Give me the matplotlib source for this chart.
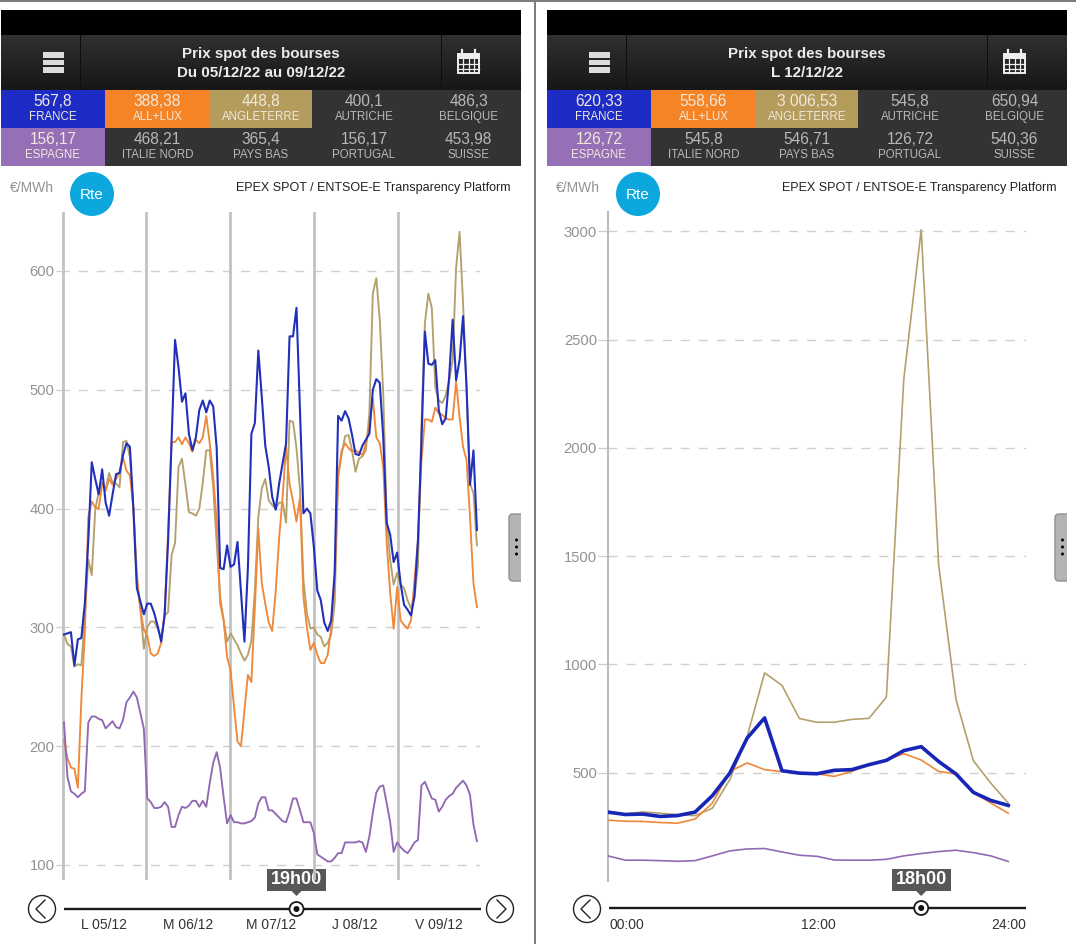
# Prix spot des bourses - two phone screenshots side by side

import numpy as np
import matplotlib
matplotlib.use("Agg")
import matplotlib.pyplot as plt
from matplotlib.patches import Rectangle, Circle, FancyBboxPatch, Polygon

plt.rcParams['font.family'] = ['Liberation Sans', 'DejaVu Sans']

W, H = 1076, 944

# week chart, one value per hour, Mon 05/12 to Fri 09/12
week_france = [294, 295, 296, 268, 290, 291, 320, 373, 439, 425, 412, 433, 405, 394, 412, 429, 430, 445, 455, 452, 400, 333, 322, 311,
               320, 320, 312, 301, 288, 310, 373, 457, 542, 519, 490, 497, 463, 449, 460, 483, 491, 481, 491, 486, 451, 350, 349, 369,
               351, 353, 372, 330, 288, 350, 463, 472, 533, 494, 453, 435, 410, 399, 421, 438, 455, 545, 545, 569, 483, 396, 400, 396,
               368, 331, 323, 304, 297, 306, 346, 478, 474, 482, 476, 462, 446, 445, 453, 458, 463, 500, 509, 506, 460, 388, 378, 355,
               363, 337, 319, 315, 310, 326, 373, 455, 549, 522, 521, 525, 483, 471, 476, 511, 559, 508, 525, 562, 503, 420, 449, 382]
week_allemagne = [205, 190, 182, 181, 165, 239, 295, 393, 406, 401, 400, 421, 415, 425, 420, 425, 430, 443, 432, 428, 400, 345, 315, 298,
                  293, 278, 276, 278, 287, 313, 380, 456, 456, 460, 454, 460, 455, 448, 458, 455, 460, 478, 455, 427, 390, 320, 306, 275,
                  264, 233, 204, 200, 230, 260, 254, 317, 383, 337, 320, 304, 297, 330, 375, 410, 452, 421, 406, 389, 409, 326, 300, 281,
                  287, 277, 270, 270, 277, 300, 340, 427, 449, 455, 451, 448, 449, 447, 445, 455, 470, 493, 460, 455, 435, 371, 329, 299,
                  334, 306, 302, 299, 306, 340, 373, 440, 475, 475, 473, 485, 480, 479, 476, 475, 475, 507, 477, 452, 441, 393, 337, 317]
week_angleterre = [294, 286, 284, 267, 269, 268, 310, 357, 344, 399, 414, 422, 416, 430, 422, 421, 418, 456, 457, 443, 400, 336, 317, 282,
                   300, 305, 305, 299, 291, 310, 313, 361, 371, 435, 442, 420, 397, 396, 394, 400, 422, 449, 449, 418, 371, 326, 306, 288,
                   295, 290, 285, 278, 272, 277, 289, 331, 393, 417, 425, 407, 403, 400, 405, 405, 388, 474, 473, 451, 416, 340, 312, 299,
                   300, 294, 292, 284, 287, 294, 320, 427, 445, 461, 462, 449, 431, 442, 444, 449, 480, 581, 594, 559, 497, 390, 357, 336,
                   346, 336, 333, 323, 316, 326, 351, 470, 556, 581, 569, 502, 491, 489, 495, 508, 525, 603, 633, 573, 502, 421, 413, 369]
week_espagne = [220, 174, 162, 160, 157, 160, 162, 220, 225, 225, 223, 222, 215, 218, 221, 216, 215, 222, 237, 241, 246, 241, 228, 215,
                156, 153, 148, 148, 149, 153, 149, 132, 132, 142, 149, 148, 150, 154, 154, 149, 154, 149, 169, 186, 195, 182, 157, 135,
                142, 136, 136, 135, 135, 136, 137, 140, 152, 157, 157, 146, 146, 143, 140, 137, 136, 145, 156, 156, 146, 136, 136, 136,
                127, 109, 107, 105, 103, 103, 106, 110, 110, 119, 119, 119, 119, 120, 119, 111, 124, 144, 161, 166, 167, 152, 136, 111,
                119, 115, 112, 110, 114, 119, 121, 167, 170, 163, 156, 155, 145, 149, 155, 158, 160, 165, 168, 171, 167, 159, 134, 120]

# day chart, Mon 12/12
day_france = [318, 307, 309, 298, 302, 318, 394, 498, 660, 753, 509, 498, 495, 511, 514, 537, 557, 602, 620.33, 552, 494, 409, 372, 349]
day_allemagne = [281, 276, 275, 270, 267, 286, 360, 506, 545, 514, 505, 498, 495, 483, 506, 537, 557, 588, 558.66, 506, 494, 409, 360, 313]
day_angleterre = [313, 310, 319, 313, 306, 302, 336, 468, 668, 961, 903, 750, 733, 733, 746, 751, 849, 2317, 3006.53, 1463, 838, 555, 452, 360]
day_espagne = [116, 96, 96, 94, 91, 94, 116, 139, 148, 150, 134, 119, 114, 97, 96, 96, 100, 116, 126.72, 136, 142, 131, 116, 90]

countries = ["FRANCE", "ALL+LUX", "ANGLETERRE", "AUTRICHE", "BELGIQUE",
             "ESPAGNE", "ITALIE NORD", "PAYS BAS", "PORTUGAL", "SUISSE"]
week_prices = ["567,8", "388,38", "448,8", "400,1", "486,3",
               "156,17", "468,21", "365,4", "156,17", "453,98"]
day_prices = ["620,33", "558,66", "3 006,53", "545,8", "650,94",
              "126,72", "545,8", "546,71", "126,72", "540,36"]

week_yticks = [100, 200, 300, 400, 500, 600]
day_yticks = [500, 1000, 1500, 2000, 2500, 3000]
week_days = ["L 05/12", "M 06/12", "M 07/12", "J 08/12", "V 09/12"]
day_hours = ["00:00", "12:00", "24:00"]

BLUE = '#2130bb'
ORANGE = '#f0883a'
TAN = '#b3a06c'
PURPLE = '#9069b3'
CELL_COLORS = {0: '#1c2cc4', 1: '#f58426', 2: '#b49c5c', 5: '#9670b6'}
GRAY_TEXT = '#929292'

fig = plt.figure(figsize=(W / 100, H / 100), dpi=100, facecolor='white')


def axes_px(x0, y0, x1, y1):
    return fig.add_axes([x0 / W, 1 - y1 / H, (x1 - x0) / W, (y1 - y0) / H])


# overlay in pixel coordinates for the app chrome
ui = axes_px(0, 0, W, H)
ui.set_xlim(0, W)
ui.set_ylim(H, 0)
ui.axis('off')


def rect(x0, y0, x1, y1, color, z=1):
    ui.add_patch(Rectangle((x0, y0), x1 - x0, y1 - y0, facecolor=color, edgecolor='none', zorder=z))


def draw_chrome(dx, line1, line2, prices):
    rect(dx + 1, 10, dx + 521, 35, 'black')
    grad = np.linspace(0.19, 0.09, 50).reshape(-1, 1)
    ui.imshow(grad, extent=(dx + 1, dx + 521, 90, 35), aspect='auto', cmap='gray',
              vmin=0, vmax=1, zorder=1)
    rect(dx + 79.5, 35, dx + 81, 90, '#0e0e0e', 2)
    rect(dx + 440.5, 35, dx + 442, 90, '#0e0e0e', 2)

    # hamburger
    for y in (52, 59.5, 67):
        rect(dx + 43, y, dx + 64, y + 5.5, '#dcdcdc', 3)
    # calendar
    ui.add_patch(Rectangle((dx + 458, 54), 21, 19, facecolor='none', edgecolor='#eeeeee', lw=1.4, zorder=3))
    rect(dx + 458, 54, dx + 479, 59, '#eeeeee', 3)
    for x in (dx + 463, dx + 468.5, dx + 474):
        ui.plot([x, x], [59, 73], color='#eeeeee', lw=0.9, zorder=3)
    for y in (63.5, 68.5):
        ui.plot([dx + 458, dx + 479], [y, y], color='#eeeeee', lw=0.9, zorder=3)
    for x in (dx + 462, dx + 475):
        ui.plot([x, x], [50, 55], color='#eeeeee', lw=1.6, zorder=3)

    ui.text(dx + 261, 54, line1, color='#ececec', fontsize=10.9, fontweight='bold', ha='center', va='center', zorder=3)
    ui.text(dx + 261, 73, line2, color='#ececec', fontsize=10.9, fontweight='bold', ha='center', va='center', zorder=3)

    # price table
    col_edges = [1, 105, 210, 312, 416, 521]
    row_edges = [90, 128, 166]
    rect(dx + 1, 90, dx + 521, 166, '#333333')
    for i, (name, price) in enumerate(zip(countries, prices)):
        row, col = divmod(i, 5)
        x0, x1 = dx + col_edges[col], dx + col_edges[col + 1]
        y0 = row_edges[row]
        on_color = i in CELL_COLORS
        if on_color:
            rect(x0, y0, x1, row_edges[row + 1], CELL_COLORS[i], 2)
        c = '#f1e9dc' if on_color else '#b8b8b8'
        ui.text((x0 + x1) / 2, y0 + 12, price, color=c, fontsize=11.2, ha='center', va='center', zorder=3)
        ui.text((x0 + x1) / 2, y0 + 27, name, color=c, fontsize=8.3, ha='center', va='center', zorder=3)

    ui.text(dx + 10, 188, "€/MWh", color=GRAY_TEXT, fontsize=10, ha='left', va='center')
    ui.add_patch(Circle((dx + 92, 194), 22, facecolor='#0ba7dd', edgecolor='none', zorder=3))
    ui.text(dx + 92, 195, "Rte", color='white', fontsize=11, ha='center', va='center', zorder=4)
    ui.text(dx + 510, 188, "EPEX SPOT / ENTSOE-E Transparency Platform", color='#222222',
            fontsize=9, ha='right', va='center')

    # side tab
    ui.add_patch(FancyBboxPatch((dx + 509, 514), 16, 67, boxstyle='round,pad=0,rounding_size=4',
                                facecolor='#b4b4b4', edgecolor='#8f8f8f', lw=1, zorder=2))
    rect(dx + 521, 510, dx + 530, 585, 'white', 3)
    for y in (540, 547, 554):
        ui.add_patch(Circle((dx + 516.5, y), 1.5, facecolor='black', edgecolor='none', zorder=4))


def arrow_button(x, y, direction):
    ui.add_patch(Circle((x, y), 13.5, facecolor='white', edgecolor='#222222', lw=1, zorder=3))
    ui.plot([x - 3 * direction, x + 6 * direction, x - 3 * direction],
            [y - 9, y, y + 9], color='#222222', lw=1, zorder=4)


def draw_slider(x0, x1, y, cursor_x, label):
    ui.plot([x0, x1], [y, y], color='#1a1a1a', lw=1.7, zorder=2, solid_capstyle='butt')
    ui.add_patch(Circle((cursor_x, y), 7, facecolor='white', edgecolor='#1a1a1a', lw=1.3, zorder=3))
    ui.add_patch(Circle((cursor_x, y), 3, facecolor='#111111', edgecolor='none', zorder=4))
    rect(cursor_x - 29.5, 869, cursor_x + 29.5, 891, '#575757', 3)
    ui.add_patch(Polygon([[cursor_x - 5, 891], [cursor_x + 5, 891], [cursor_x, 896]],
                         facecolor='#575757', edgecolor='none', zorder=3))
    ui.text(cursor_x, 880, label, color='white', fontsize=13, fontweight='bold', ha='center', va='center', zorder=4)


def style_chart(ax, yticks, tick_len):
    ax.patch.set_alpha(0)
    for side in ('top', 'right', 'bottom', 'left'):
        ax.spines[side].set_visible(False)
    ax.set_xticks([])
    ax.set_yticks(yticks)
    ax.tick_params(axis='y', length=tick_len, width=0.9, color='#cccccc', labelcolor=GRAY_TEXT, labelsize=10.6, pad=1)
    ax.grid(axis='y', color='#d0d0d0', lw=1, linestyle=(0, (6.5, 6.5)))
    ax.set_axisbelow(True)


draw_chrome(0, "Prix spot des bourses", "Du 05/12/22 au 09/12/22", week_prices)
draw_chrome(546, "Prix spot des bourses", "L 12/12/22", day_prices)

# left chart: week
PX_PER_HOUR = 3.47
X_FIRST = 64
ax1 = axes_px(60, 212, 480, 880)
ax1.set_xlim((60 - X_FIRST) / PX_PER_HOUR, (480 - X_FIRST) / PX_PER_HOUR)
ax1.set_ylim(100 + (865 - 880) / 1.188, 100 + (865 - 212) / 1.188)
style_chart(ax1, week_yticks, 3)
hours = np.arange(len(week_france))
for k in range(len(week_days)):
    ax1.axvline(-0.43 + 24.2 * k, color='#c2c2c2', lw=2, zorder=1.5)
ax1.plot(hours, week_angleterre, color=TAN, lw=1.35, zorder=2)
ax1.plot(hours, week_allemagne, color=ORANGE, lw=1.35, zorder=3)
ax1.plot(hours, week_espagne, color=PURPLE, lw=1.35, zorder=3)
ax1.plot(hours, week_france, color=BLUE, lw=1.5, zorder=4)

# right chart: day
PX_PER_HOUR_DAY = 17.4
ax2 = axes_px(608, 212, 1026, 881)
ax2.set_xlim(0, 418 / PX_PER_HOUR_DAY)
ax2.set_ylim(0, 669 / 0.2166)
style_chart(ax2, day_yticks, 7)
ax2.spines['left'].set_visible(True)
ax2.spines['left'].set_color('#bcbcbc')
ax2.spines['left'].set_linewidth(1.5)
hours = np.arange(len(day_france))
ax2.plot(hours, day_angleterre, color=TAN, lw=1.2, zorder=2)
ax2.plot(hours, day_allemagne, color=ORANGE, lw=1.2, zorder=3)
ax2.plot(hours, day_espagne, color=PURPLE, lw=1.2, zorder=3)
ax2.plot(hours, day_france, color='#1826b8', lw=2.6, zorder=4)

# sliders under the charts
arrow_button(42, 909, -1)
arrow_button(500, 909, 1)
draw_slider(64, 481, 909, X_FIRST + PX_PER_HOUR * 67, "19h00")
for k, label in enumerate(week_days):
    ui.text(104 + 83.7 * k, 925, label, color='#333333', fontsize=10, ha='center', va='center')

arrow_button(587, 909, -1)
draw_slider(609, 1026, 908, 608 + PX_PER_HOUR_DAY * 18, "18h00")
ui.text(609, 925, day_hours[0], color='#333333', fontsize=10, ha='left', va='center')
ui.text(818, 925, day_hours[1], color='#333333', fontsize=10, ha='center', va='center')
ui.text(1026, 925, day_hours[2], color='#333333', fontsize=10, ha='right', va='center')

# screenshot borders
rect(0, 0, W, 1.5, '#7d7d7d', 5)
rect(534, 0, 535.5, H, '#7d7d7d', 5)
ui.set_xlim(0, W)
ui.set_ylim(H, 0)

fig.savefig("out.png", dpi=100)
